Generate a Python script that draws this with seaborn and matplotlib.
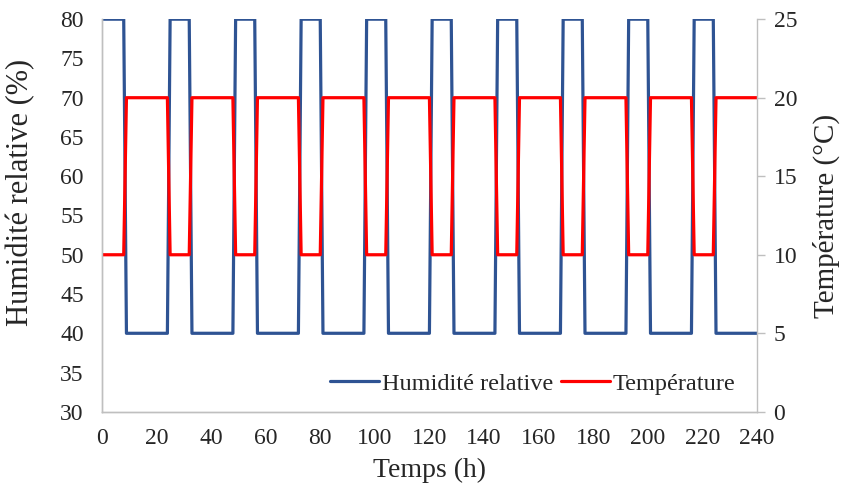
import numpy as np
import pandas as pd
import seaborn as sns
import matplotlib.pyplot as plt

# breakpoints of the cycles (h)
temps = [0, 8, 9, 24, 25, 32, 33, 48, 49, 56, 57, 72, 73, 80, 81, 96, 97, 104, 105,
         120, 121, 128, 129, 144, 145, 152, 153, 168, 169, 176, 177, 192, 193, 200,
         201, 216, 217, 224, 225, 240]
humidite = [80, 80, 40, 40, 80, 80, 40, 40, 80, 80, 40, 40, 80, 80, 40, 40, 80, 80, 40,
            40, 80, 80, 40, 40, 80, 80, 40, 40, 80, 80, 40, 40, 80, 80,
            40, 40, 80, 80, 40, 40]
temperature = [10, 10, 20, 20, 10, 10, 20, 20, 10, 10, 20, 20, 10, 10, 20, 20, 10, 10, 20,
               20, 10, 10, 20, 20, 10, 10, 20, 20, 10, 10, 20, 20, 10, 10,
               20, 20, 10, 10, 20, 20]
x_ticks = list(range(0, 241, 20))

df = pd.DataFrame({"Temps": temps, "HR": humidite, "T": temperature})

sns.set_style("white")
plt.rcParams['font.family'] = ['Liberation Serif', 'DejaVu Serif']

fig = plt.figure(figsize=(8.42, 4.92), dpi=100)
ax = fig.add_axes([0.121, 0.163, 0.778, 0.798])
ax2 = ax.twinx()

blue = "#2E5393"
red = "#FF0000"
sns.lineplot(data=df, x="Temps", y="HR", ax=ax, color=blue, lw=2.3,
             label="Humidité relative", legend=False)
sns.lineplot(data=df, x="Temps", y="T", ax=ax2, color=red, lw=2.3,
             label="Température", legend=False)

ax.set_xlim(0, 240)
ax.set_ylim(30, 80)
ax2.set_ylim(0, 25)
ax.set_xticks(x_ticks)
ax.set_yticks(range(30, 81, 5))
ax2.set_yticks(range(0, 26, 5))

ax.set_xlabel("Temps (h)", fontsize=20, labelpad=6)
ax.set_ylabel("Humidité relative (%)", fontsize=22)
ax2.set_ylabel("Température (°C)", fontsize=21)
ax.yaxis.set_label_coords(-0.102, 0.56)
ax2.yaxis.set_label_coords(1.085, 0.5)

ax.tick_params(axis="x", length=0, labelsize=17, pad=12)
ax.tick_params(axis="y", length=0, labelsize=17, pad=13)
ax2.tick_params(axis="y", length=6, width=1, color="#BFBFBF", labelsize=17, pad=6)

for a in (ax, ax2):
    a.spines["top"].set_visible(False)
    for s in ("left", "bottom", "right"):
        a.spines[s].set_color("#BFBFBF")
        a.spines[s].set_linewidth(1)
ax.spines["right"].set_visible(False)

h1, l1 = ax.get_legend_handles_labels()
h2, l2 = ax2.get_legend_handles_labels()
leg = ax2.legend(h1 + h2, l1 + l2, loc="lower right", bbox_to_anchor=(1.0, -0.012),
                 ncol=2, frameon=False, fontsize=17.5, handlelength=2.0,
                 handletextpad=0.1, columnspacing=0.35)

fig.savefig("out.png", dpi=100)
